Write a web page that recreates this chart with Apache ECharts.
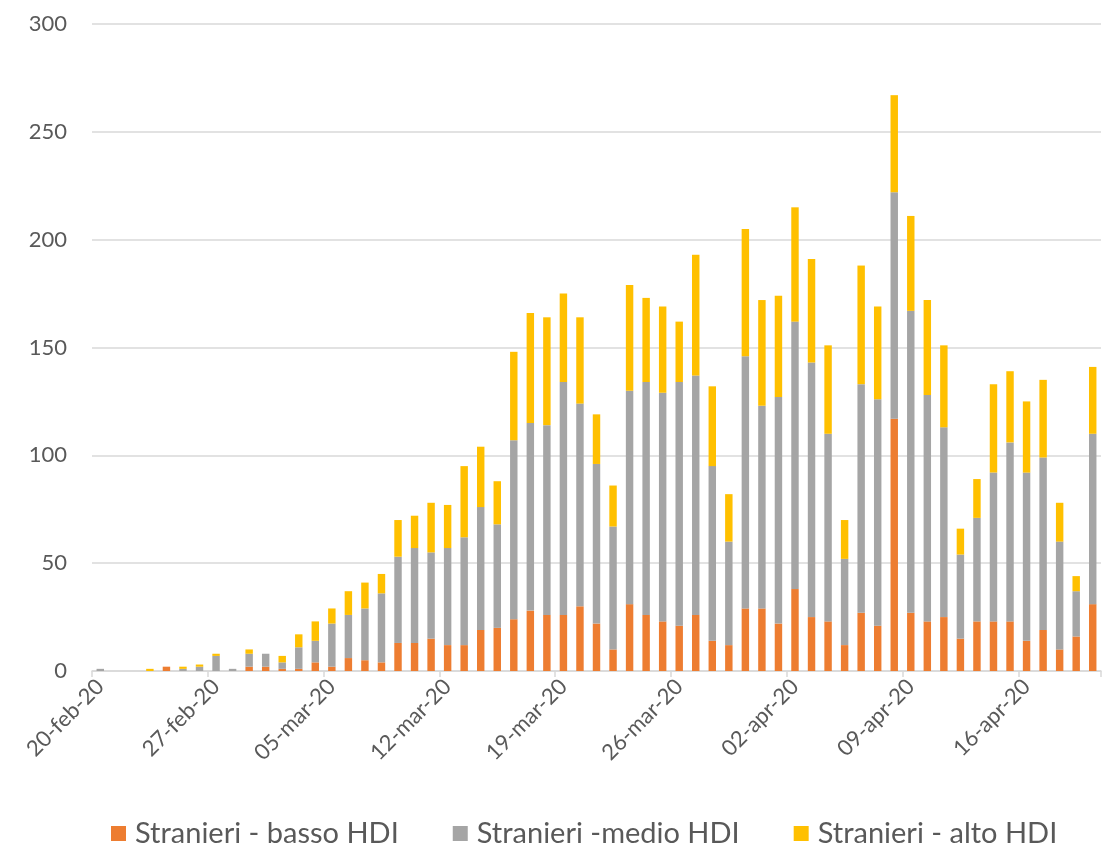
<!DOCTYPE html>
<html>
<head>
<meta charset="utf-8">
<script src="https://cdn.jsdelivr.net/npm/echarts@6/dist/echarts.min.js"></script>
<style>
html,body{margin:0;padding:0;background:#fff;}
#chart{width:1107px;height:848px;}
</style>
</head>
<body>
<div id="chart"></div>
<script>
const categories = [
  '20-feb-20','21-feb-20','22-feb-20','23-feb-20','24-feb-20','25-feb-20','26-feb-20','27-feb-20','28-feb-20','29-feb-20',
  '01-mar-20','02-mar-20','03-mar-20','04-mar-20','05-mar-20','06-mar-20','07-mar-20','08-mar-20','09-mar-20','10-mar-20',
  '11-mar-20','12-mar-20','13-mar-20','14-mar-20','15-mar-20','16-mar-20','17-mar-20','18-mar-20','19-mar-20','20-mar-20',
  '21-mar-20','22-mar-20','23-mar-20','24-mar-20','25-mar-20','26-mar-20','27-mar-20','28-mar-20','29-mar-20','30-mar-20',
  '31-mar-20','01-apr-20','02-apr-20','03-apr-20','04-apr-20','05-apr-20','06-apr-20','07-apr-20','08-apr-20','09-apr-20',
  '10-apr-20','11-apr-20','12-apr-20','13-apr-20','14-apr-20','15-apr-20','16-apr-20','17-apr-20','18-apr-20','19-apr-20',
  '20-apr-20'
];

const seriesNames = ['Stranieri - basso HDI', 'Stranieri -medio HDI', 'Stranieri - alto HDI'];

const basso = [
  0,0,0,0,2,0,0,0,0,2,
  2,1,1,4,2,6,5,4,13,13,
  15,12,12,19,20,24,28,26,26,30,
  22,10,31,26,23,21,26,14,12,29,
  29,22,38,25,23,12,27,21,117,27,
  23,25,15,23,23,23,14,19,10,16,
  31
];
const medio = [
  1,0,0,0,0,1,2,7,1,6,
  6,3,10,10,20,20,24,32,40,44,
  40,45,50,57,48,83,87,88,108,94,
  74,57,99,108,106,113,111,81,48,117,
  94,105,124,118,87,40,106,105,105,140,
  105,88,39,48,69,83,78,80,50,21,
  79
];
const alto = [
  0,0,0,1,0,1,1,1,0,2,
  0,3,6,9,7,11,12,9,17,15,
  23,20,33,28,20,41,51,50,41,40,
  23,19,49,39,40,28,56,37,22,59,
  49,47,53,48,41,18,55,43,45,44,
  44,38,12,18,41,33,33,36,18,7,
  31
];

const yTicks = { min: 0, max: 300, interval: 50 };
const colors = ['#ED7D31', '#A5A5A5', '#FFC000'];
const FONT = 'Lato';

const chart = echarts.init(document.getElementById('chart'), null, { renderer: 'canvas' });

const dataSets = [basso, medio, alto];
const series = seriesNames.map((name, k) => ({
  name: name,
  type: 'bar',
  stack: 'total',
  barWidth: '45%',
  data: dataSets[k].map(v => (v === 0 ? null : v)),
  itemStyle: { color: colors[k] },
  emphasis: { disabled: true }
}));

chart.setOption({
  animation: false,
  textStyle: { fontFamily: FONT },
  grid: { left: 92, right: 6, top: 24, bottom: 177, containLabel: false },
  legend: {
    top: 814,
    left: 106,
    itemWidth: 15,
    itemHeight: 15,
    itemGap: 54,
    icon: 'rect',
    textStyle: { fontFamily: FONT, fontSize: 29, color: '#595959', padding: [0, 0, 0, 4] },
    data: seriesNames
  },
  xAxis: {
    type: 'category',
    data: categories,
    boundaryGap: true,
    axisLine: { show: true, lineStyle: { color: '#D9D9D9', width: 1.5 } },
    axisTick: { show: true, interval: 6, length: 6, lineStyle: { color: '#D9D9D9', width: 1.5 } },
    axisLabel: {
      interval: 6,
      rotate: 45,
      margin: 12,
      fontFamily: FONT,
      fontSize: 22,
      color: '#595959'
    },
    splitLine: { show: false }
  },
  yAxis: {
    type: 'value',
    min: yTicks.min,
    max: yTicks.max,
    interval: yTicks.interval,
    axisLine: { show: false },
    axisTick: { show: false },
    axisLabel: { margin: 25, fontFamily: FONT, fontSize: 22, color: '#595959' },
    splitLine: { show: true, lineStyle: { color: '#D9D9D9', width: 1.5 } }
  },
  series: series
});
</script>
</body>
</html>
